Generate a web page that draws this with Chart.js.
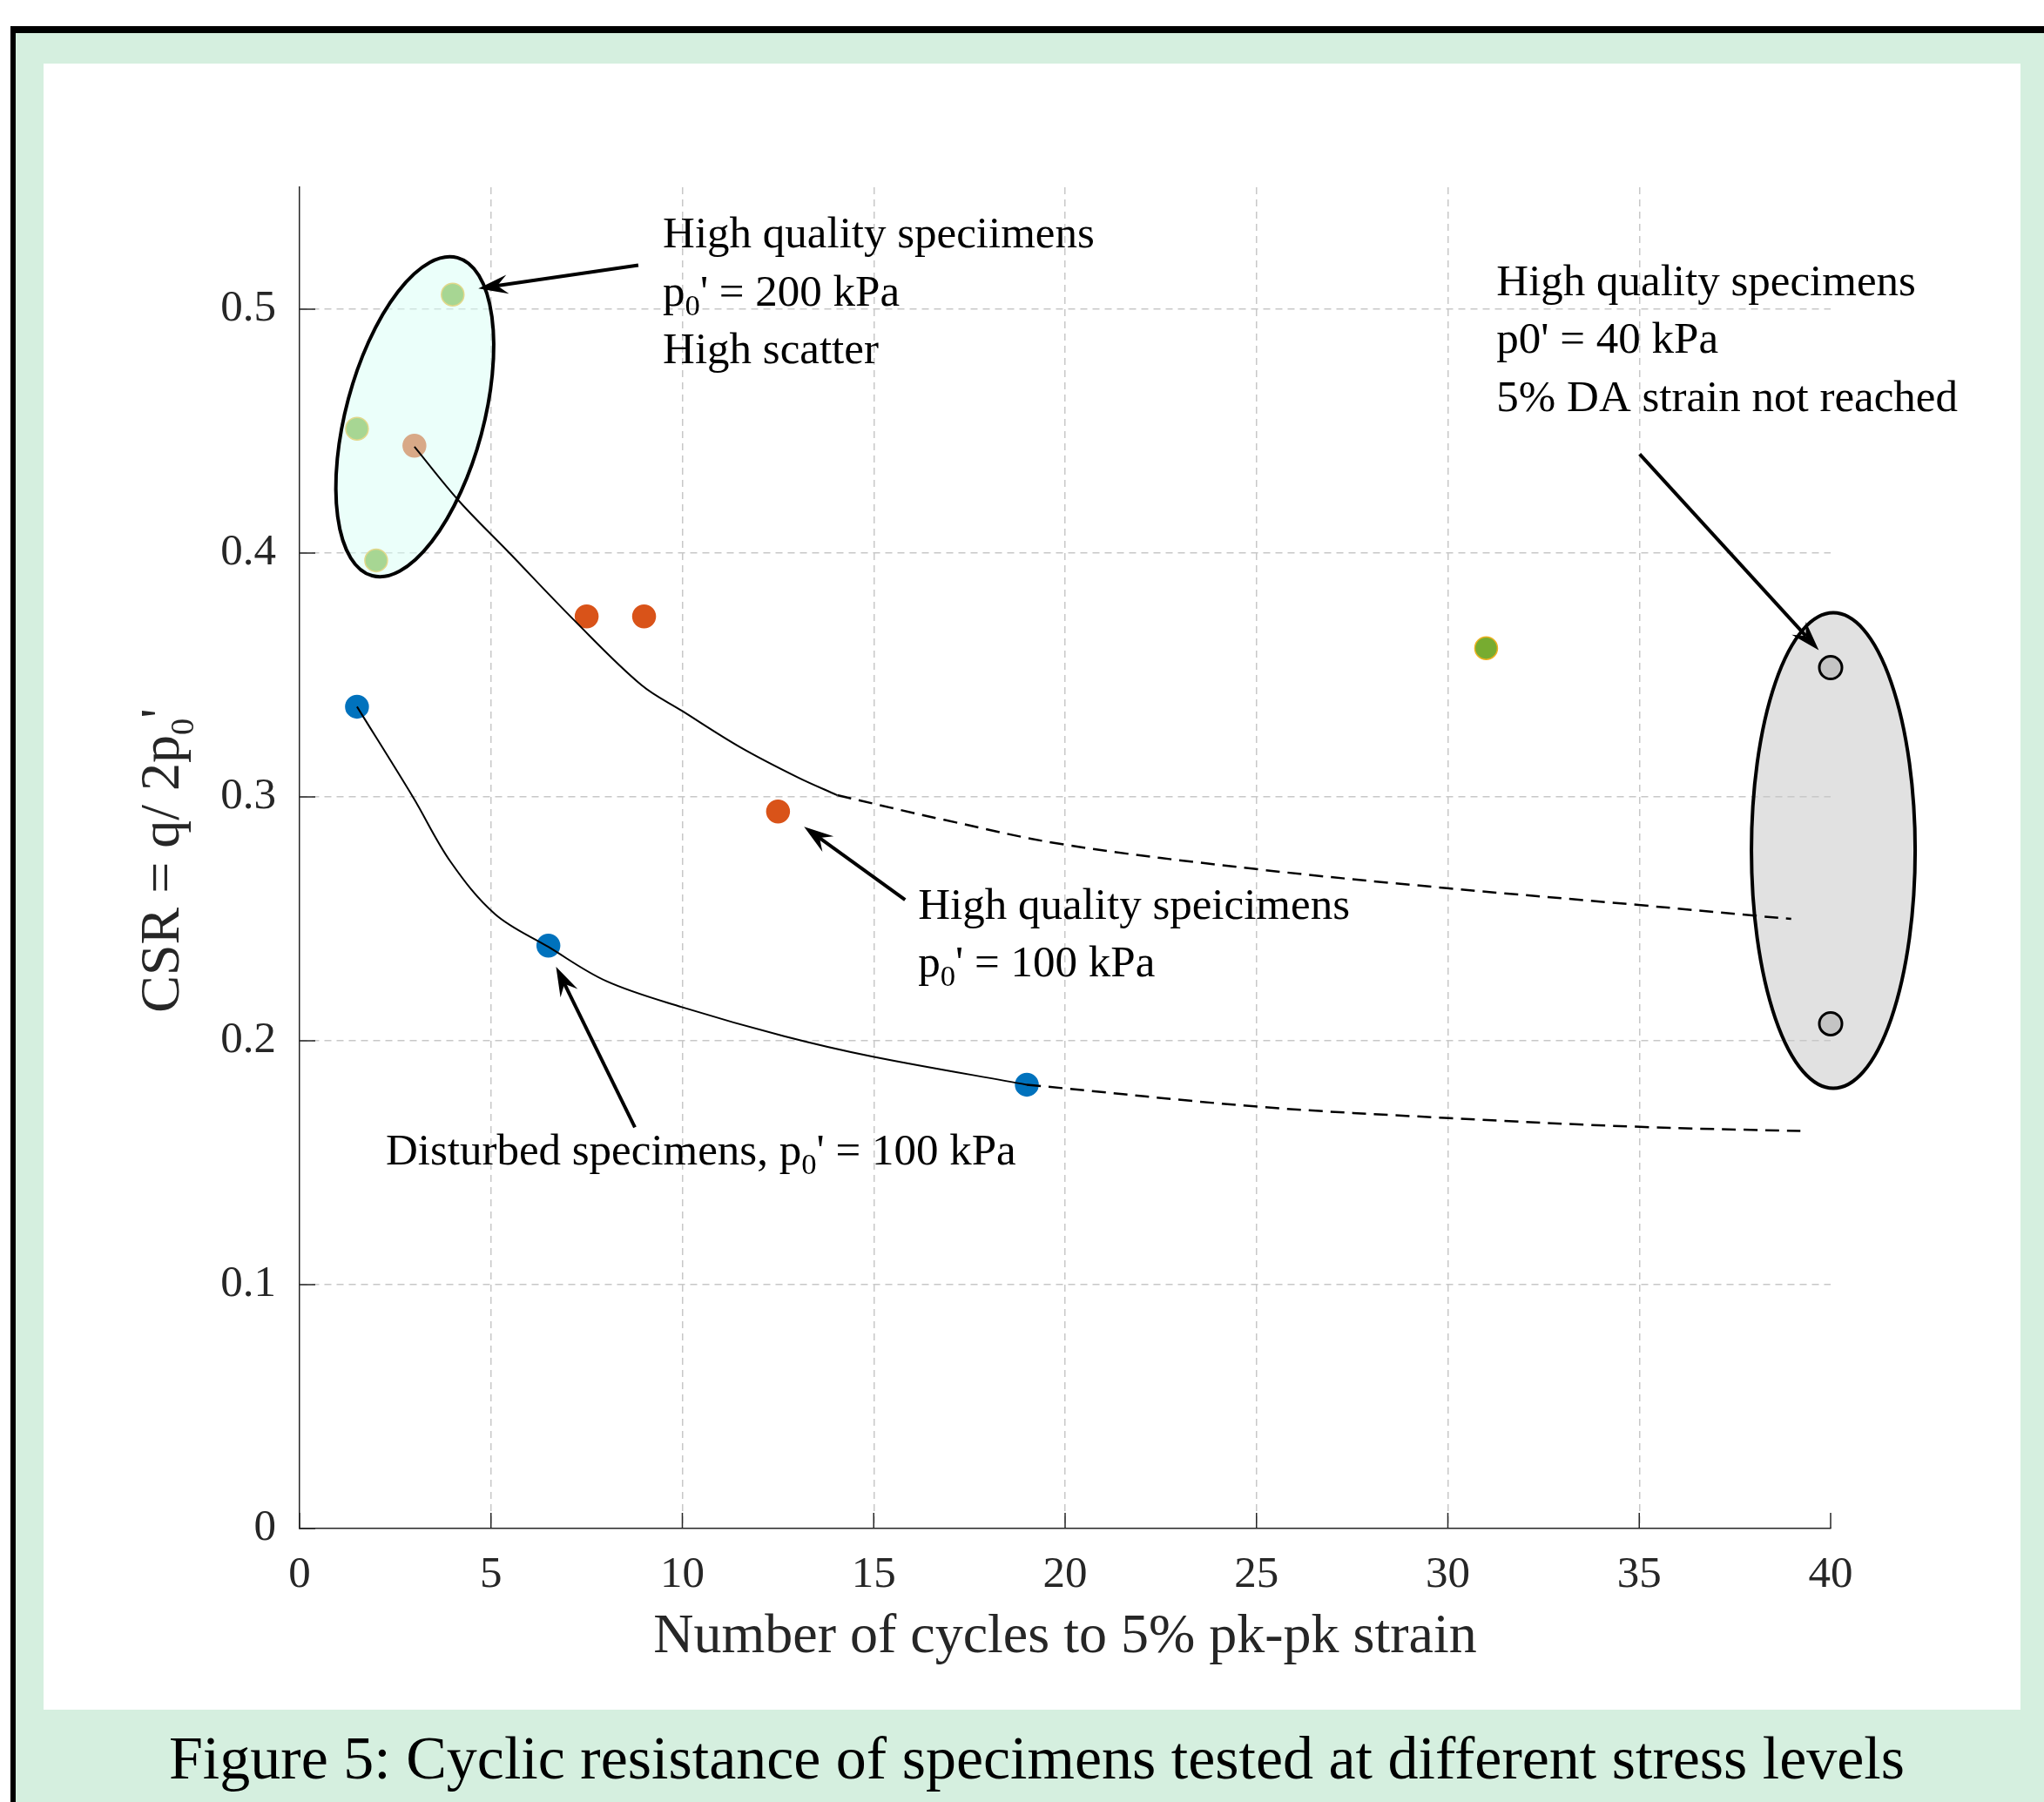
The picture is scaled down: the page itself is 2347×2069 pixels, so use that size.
<!DOCTYPE html>
<html>
<head>
<meta charset="utf-8">
<script src="https://cdn.jsdelivr.net/npm/chart.js@4.4.1/dist/chart.umd.min.js"></script>
<style>
  html, body { margin: 0; padding: 0; background: #fff; overflow: hidden; }
  #frame { position: absolute; left: 12px; top: 30px; width: 2329px; height: 2031px;
           border-top: 8px solid #000; border-left: 6px solid #000; background: #d5efdf; }
  #panel { position: absolute; left: 50px; top: 73px; width: 2270px; height: 1890px; background: #fff; }
  #caption { position: absolute; left: 34px; width: 2313px; top: 1984px; text-align: center;
             font: 70px/70px "Liberation Serif", serif; color: #000; white-space: nowrap; }
  canvas { position: absolute; left: 0; top: 0; }
</style>
</head>
<body>
<div id="frame"></div>
<div id="panel"></div>
<div id="caption">Figure 5: Cyclic resistance of specimens tested at different stress levels</div>
<canvas id="csrChart" width="2347" height="2069"></canvas>
<script>
// axis ticks
const xTickValues = [0, 5, 10, 15, 20, 25, 30, 35, 40];
const yTickValues = [0, 0.1, 0.2, 0.3, 0.4, 0.5];

// measured points (cycles, CSR)
const hq200X = [1.5, 2, 4, 31];
const hq200Y = [0.451, 0.397, 0.506, 0.361];
const hq100X = [3, 7.5, 9, 12.5];
const hq100Y = [0.444, 0.374, 0.374, 0.294];
const distX = [1.5, 6.5, 19];
const distY = [0.337, 0.239, 0.182];
const hq40X = [40, 40];
const hq40Y = [0.353, 0.207];

// trend lines
const hqFitX = [3, 4.15, 5.44, 7.19, 8.93, 10, 11.51, 13.03, 14.05];
const hqFitY = [0.4436, 0.4216, 0.4007, 0.3722, 0.3459, 0.3352, 0.3204, 0.3079, 0.3007];
const hqExtX = [14.05, 16.84, 19.96, 25.05, 29.97, 34.98, 38.01, 38.97];
const hqExtY = [0.3007, 0.2906, 0.2805, 0.2703, 0.2626, 0.2557, 0.2513, 0.2500];
const distFitX = [1.5, 2.96, 3.95, 5.11, 6.5, 8.01, 9.99, 12.66, 14.98, 19];
const distFitY = [0.337, 0.300, 0.2733, 0.2519, 0.2385, 0.2245, 0.2138, 0.2019, 0.1935, 0.182];
const distExtX = [19, 25.03, 30.03, 35.02, 39.21];
const distExtY = [0.182, 0.1730, 0.1683, 0.1647, 0.1630];

// annotation anchors in data units
const ellipseX = [3.01, 40.07];
const ellipseY = [0.4559, 0.278];
const arrowFromX = [8.85, 15.82, 8.76, 35.01];
const arrowFromY = [0.518, 0.2578, 0.1645, 0.4406];
const arrowToX = [4.67, 13.18, 6.70, 39.69];
const arrowToY = [0.5085, 0.2878, 0.2304, 0.3602];
const noteX = [9.49, 31.27, 16.16, 2.25];
const noteY = [0.5252, 0.5058, 0.2501, 0.1493];
const notes = [
  [[['High quality speciimens']], [['p'], ['0', 'sub'], ["' = 200 kPa"]], [['High scatter']]],
  [[['High quality specimens']], [["p0' = 40 kPa"]], [['5% DA strain not reached']]],
  [[['High quality speicimens']], [['p'], ['0', 'sub'], ["' = 100 kPa"]]],
  [[['Disturbed specimens, p'], ['0', 'sub'], ["' = 100 kPa"]]]
];

const SERIF = '"Liberation Serif", serif';
const pts = (xs, ys) => xs.map((x, i) => ({ x: x, y: ys[i] }));

function drawRich(ctx, x, y, segs, size) {
  let cx = x;
  segs.forEach(s => {
    const sub = s[1] === 'sub';
    ctx.font = (sub ? size * 0.68 : size) + 'px ' + SERIF;
    ctx.fillText(s[0], cx, y + (sub ? size * 0.22 : 0));
    cx += ctx.measureText(s[0]).width;
  });
}

function drawArrow(ctx, x1, y1, x2, y2) {
  const a = Math.atan2(y2 - y1, x2 - x1);
  const L = 34, W = 11, N = 22;
  ctx.lineWidth = 4;
  ctx.strokeStyle = '#000';
  ctx.fillStyle = '#000';
  ctx.beginPath();
  ctx.moveTo(x1, y1);
  ctx.lineTo(x2 - N * Math.cos(a), y2 - N * Math.sin(a));
  ctx.stroke();
  ctx.save();
  ctx.translate(x2, y2);
  ctx.rotate(a);
  ctx.beginPath();
  ctx.moveTo(0, 0);
  ctx.lineTo(-L, -W);
  ctx.lineTo(-N, 0);
  ctx.lineTo(-L, W);
  ctx.closePath();
  ctx.fill();
  ctx.restore();
}

let ellipsesDone = false;
const annotate = {
  id: 'annotate',
  beforeDatasetsDraw(chart) {
    ellipsesDone = false;
    const { ctx, scales: { x, y } } = chart;
    // inward tick marks, matlab style
    ctx.save();
    ctx.strokeStyle = '#262626';
    ctx.lineWidth = 1.5;
    ctx.beginPath();
    xTickValues.forEach(v => {
      const px = x.getPixelForValue(v);
      ctx.moveTo(px, y.bottom);
      ctx.lineTo(px, y.bottom - 18);
    });
    yTickValues.forEach(v => {
      const py = y.getPixelForValue(v);
      ctx.moveTo(x.left, py);
      ctx.lineTo(x.left + 18, py);
    });
    ctx.stroke();
    ctx.restore();
  },
  beforeDatasetDraw(chart, args) {
    if (ellipsesDone || chart.data.datasets[args.index].order > 1) return;
    ellipsesDone = true;
    const { ctx, scales: { x, y } } = chart;
    const shapes = [
      { rx: 79, ry: 189, rot: 15, fill: 'rgba(215,255,245,0.5)' },
      { rx: 94, ry: 273, rot: 0, fill: 'rgba(200,200,200,0.55)' }
    ];
    ctx.save();
    shapes.forEach((s, i) => {
      ctx.beginPath();
      ctx.ellipse(x.getPixelForValue(ellipseX[i]), y.getPixelForValue(ellipseY[i]),
        s.rx, s.ry, s.rot * Math.PI / 180, 0, Math.PI * 2);
      ctx.fillStyle = s.fill;
      ctx.fill();
      ctx.lineWidth = 4;
      ctx.strokeStyle = '#000';
      ctx.stroke();
    });
    ctx.restore();
  },
  afterDatasetsDraw(chart) {
    const { ctx, scales: { x, y } } = chart;
    ctx.save();
    arrowFromX.forEach((v, i) => {
      drawArrow(ctx, x.getPixelForValue(v), y.getPixelForValue(arrowFromY[i]),
        x.getPixelForValue(arrowToX[i]), y.getPixelForValue(arrowToY[i]));
    });
    ctx.fillStyle = '#000';
    ctx.textBaseline = 'alphabetic';
    ctx.textAlign = 'left';
    notes.forEach((lines, i) => {
      const px = x.getPixelForValue(noteX[i]);
      const py = y.getPixelForValue(noteY[i]);
      lines.forEach((segs, j) => drawRich(ctx, px, py + j * 66.5, segs, 51));
    });

    // y axis title with subscript and prime
    const size = 64;
    const main = 'CSR = q/ 2p';
    ctx.font = size + 'px ' + SERIF;
    const wMain = ctx.measureText(main).width;
    const wPrime = ctx.measureText("'").width;
    ctx.font = (size * 0.6) + 'px ' + SERIF;
    const wSub = ctx.measureText('0').width;
    const x0 = -(wMain + wSub + wPrime) / 2;
    ctx.translate(205, (y.top + y.bottom) / 2 + 3);
    ctx.rotate(-Math.PI / 2);
    ctx.fillStyle = '#262626';
    ctx.font = size + 'px ' + SERIF;
    ctx.fillText(main, x0, 0);
    ctx.fillText("'", x0 + wMain + wSub, 0);
    ctx.font = (size * 0.6) + 'px ' + SERIF;
    ctx.fillText('0', x0 + wMain, 17);
    ctx.restore();
  }
};

const tickFont = { family: 'Liberation Serif', size: 51 };

new Chart(document.getElementById('csrChart'), {
  type: 'scatter',
  data: {
    datasets: [
      { data: pts(hq200X, hq200Y), pointRadius: 13, pointBackgroundColor: '#77AC30',
        pointBorderColor: '#EDB120', pointBorderWidth: 1.5, order: 2 },
      { data: pts(hq100X, hq100Y), pointRadius: 13, pointBackgroundColor: '#D95319',
        pointBorderColor: '#D95319', pointBorderWidth: 1.5, order: 2 },
      { data: pts(distX, distY), pointRadius: 13, pointBackgroundColor: '#0072BD',
        pointBorderColor: '#0072BD', pointBorderWidth: 1.5, order: 2 },
      { type: 'line', data: pts(hqFitX, hqFitY), borderColor: '#000', borderWidth: 2,
        pointRadius: 0, tension: 0.35, order: 1 },
      { type: 'line', data: pts(hqExtX, hqExtY), borderColor: '#000', borderWidth: 2.5,
        borderDash: [16, 9], pointRadius: 0, tension: 0.35, order: 1 },
      { type: 'line', data: pts(distFitX, distFitY), borderColor: '#000', borderWidth: 2,
        pointRadius: 0, tension: 0.35, order: 1 },
      { type: 'line', data: pts(distExtX, distExtY), borderColor: '#000', borderWidth: 2.5,
        borderDash: [16, 9], pointRadius: 0, tension: 0.35, order: 1 },
      { data: pts(hq40X, hq40Y), pointRadius: 13, pointBackgroundColor: '#c4c4c4',
        pointBorderColor: '#000', pointBorderWidth: 3, order: 0, clip: false }
    ]
  },
  options: {
    responsive: false,
    animation: false,
    devicePixelRatio: 1,
    layout: { padding: { left: 0, top: 215, right: 245, bottom: 0 } },
    plugins: { legend: { display: false }, tooltip: { enabled: false } },
    scales: {
      x: {
        type: 'linear', min: 0, max: 40,
        afterFit(s) { s.height = 314; },
        afterBuildTicks(s) { s.ticks = xTickValues.map(v => ({ value: v })); },
        ticks: { font: tickFont, color: '#262626', padding: 23, maxRotation: 0, autoSkip: false },
        grid: {
          color: c => (c.tick && (c.tick.value === 0 || c.tick.value === 40)) ? 'rgba(0,0,0,0)' : '#c8c8c8',
          lineWidth: 1.5, drawTicks: false
        },
        border: { display: true, color: '#262626', width: 1.5, dash: [8, 6] },
        title: { display: true, text: 'Number of cycles to 5% pk-pk strain', color: '#262626',
                 font: { family: 'Liberation Serif', size: 64 }, padding: { top: 0, bottom: 150 } }
      },
      y: {
        type: 'linear', min: 0, max: 0.55,
        afterFit(s) { s.width = 344; },
        afterBuildTicks(s) { s.ticks = yTickValues.map(v => ({ value: v })); },
        ticks: { font: tickFont, color: '#262626', padding: 27,
                 callback: v => String(Math.round(v * 10) / 10) },
        grid: {
          color: c => (c.tick && c.tick.value === 0) ? 'rgba(0,0,0,0)' : '#c8c8c8',
          lineWidth: 1.5, drawTicks: false
        },
        border: { display: true, color: '#262626', width: 1.5, dash: [8, 6] }
      }
    }
  },
  plugins: [annotate]
});
</script>
</body>
</html>
